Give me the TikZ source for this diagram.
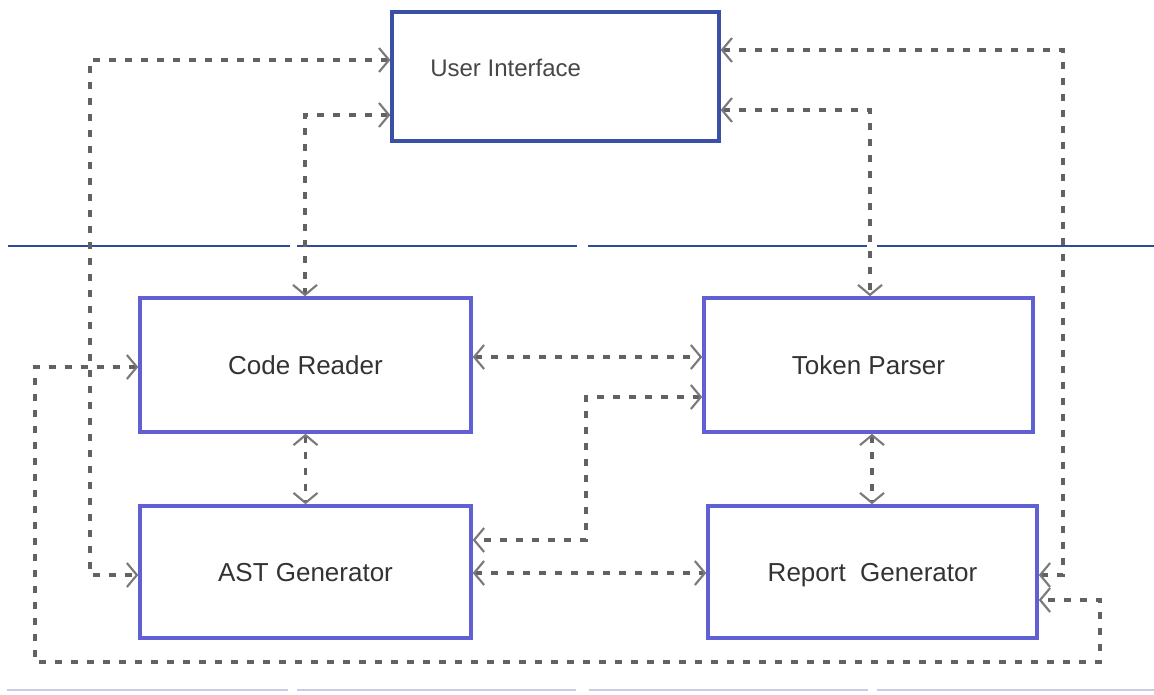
\documentclass[tikz,border=0pt]{standalone}
\usepackage{fontspec}
\setmainfont{Liberation Sans}
\usetikzlibrary{arrows.meta}
\definecolor{uiblue}{HTML}{3A4FA6}
\definecolor{boxblue}{HTML}{6060D4}
\definecolor{sepblue}{HTML}{2E4B9C}
\definecolor{lightsep}{HTML}{C9CBE3}
\definecolor{linkgray}{HTML}{626262}
\definecolor{txt}{HTML}{333333}
\tikzset{
  module/.style={draw=boxblue, line width=2.6pt, minimum width=#1, inner sep=0pt},
  label/.style={text=txt, font=\fontsize{19.5pt}{22pt}\selectfont, inner sep=0pt},
  link/.style={draw=linkgray, line width=2.6pt, dash pattern=on 5.2pt off 6.8pt,
    {Straight Barb[length=7.5pt, width=18pt, line width=1.6pt, color=linkgray!85]}-{Straight Barb[length=7.5pt, width=18pt, line width=1.6pt, color=linkgray!85]}},
  sep/.style={draw=sepblue, line width=1.7pt},
  lowsep/.style={draw=lightsep, line width=2.2pt}
}
\begin{document}
\begin{tikzpicture}[x=0.75pt, y=-0.75pt]
\useasboundingbox (0,0) rectangle (1154,694);

% layer separators
\draw[sep] (8,246) -- (290,246) (297,246) -- (577,246) (588,246) -- (867,246) (877,246) -- (1154,246);
\draw[lowsep] (7,690) -- (288,690) (297,690) -- (576,690) (589,690) -- (868,690) (877,690) -- (1154,690);

% modules
\node[module=245.25pt, draw=uiblue, line width=2.4pt, minimum height=96.75pt] (ui) at (555.5,76.5) {};
\node[label, anchor=west, text=txt!90, font=\fontsize{18pt}{21pt}\selectfont] (uitext) at (430,68) {User Interface};
\node[module=248.25pt, minimum height=100.5pt, label] (cr) at (305.5,365) {Code Reader};
\node[module=246.75pt, minimum height=100.5pt, label] (tp) at (868.5,365) {Token Parser};
\node[module=248.25pt, minimum height=99pt, label, text depth=0pt] (ast) at (305.5,572) {AST Generator};
\node[module=246.75pt, minimum height=99pt, label, text depth=0pt] (rg) at (872.5,572) {Report\ \ Generator};

% routing points
\coordinate (a1) at (90,60);
\coordinate (a2) at (90,575);
\coordinate (b1) at (305,115);
\coordinate (c1) at (1063,50);
\coordinate (c2) at (1063,575);
\coordinate (d1) at (870,110);
\coordinate (e1) at (0,357);
\coordinate (f1) at (586,397);
\coordinate (f2) at (586,540);
\coordinate (g1) at (0,573);
\coordinate (h1) at (872,0);
\coordinate (k1) at (35,367);
\coordinate (k2) at (35,662);
\coordinate (k3) at (1100,662);
\coordinate (k4) at (1100,600);

% connectors
\draw[link] (ui.west |- a1) -- (a1) -- (a2) -- (ast.west |- a2);
\draw[link] (ui.west |- b1) -- (b1) -- (cr.north -| b1);
\draw[link] (ui.east |- c1) -- (c1) -- (c2) -- (rg.east |- c2);
\draw[link] (ui.east |- d1) -- (d1) -- (tp.north -| d1);
\draw[link] (cr.east |- e1) -- (tp.west |- e1);
\draw[link] (tp.west |- f1) -- (f1) -- (f2) -- (ast.east |- f2);
\draw[link] (ast.east |- g1) -- (rg.west |- g1);
\draw[link] (cr.south) -- (ast.north);
\draw[link] (tp.south -| h1) -- (rg.north -| h1);
\draw[link] (cr.west |- k1) -- (k1) -- (k2) -- (k3) -- (k4) -- (rg.east |- k4);
\end{tikzpicture}
\end{document}
